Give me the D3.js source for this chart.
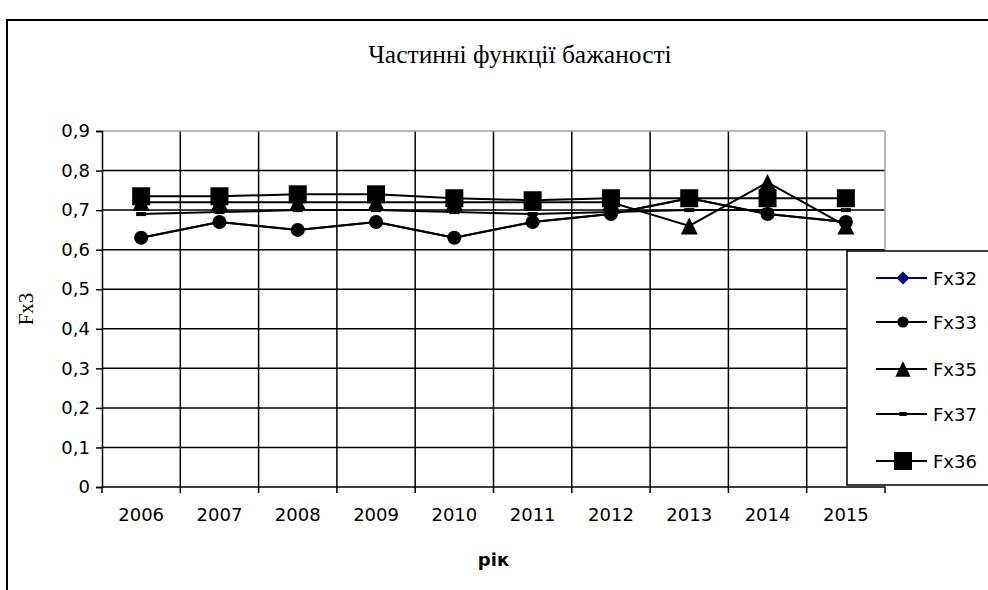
<!DOCTYPE html>
<html><head><meta charset="utf-8">
<script src="https://cdn.jsdelivr.net/npm/d3@7"></script>
<style>html,body{margin:0;padding:0;background:#fff;}</style>
</head><body>
<svg id="chart" width="988" height="590"></svg>
<script>
const years = ['2006','2007','2008','2009','2010','2011','2012','2013','2014','2015'];
const yTicks = [0,0.1,0.2,0.3,0.4,0.5,0.6,0.7,0.8,0.9];
const fx32 = [0.63,0.67,0.65,0.67,0.63,0.67,0.69,0.73,0.69,0.67];
const fx33 = [0.63,0.67,0.65,0.67,0.63,0.67,0.69,0.73,0.69,0.67];
const fx35 = [0.72,0.72,0.72,0.72,0.72,0.72,0.72,0.66,0.77,0.66];
const fx37 = [0.69,0.695,0.70,0.70,0.695,0.69,0.695,0.70,0.70,0.70];
const fx36 = [0.735,0.735,0.74,0.74,0.73,0.725,0.73,0.73,0.73,0.73];
const seriesNames = ['Fx32','Fx33','Fx35','Fx37','Fx36'];
const titleText = 'Частинні функції бажаності';
const yTitle = 'Fx3';
const xTitle = 'рік';

const series = [
  {name:seriesNames[0], values:fx32, color:'#000080', marker:'diamond'},
  {name:seriesNames[1], values:fx33, color:'#000', marker:'circle'},
  {name:seriesNames[2], values:fx35, color:'#000', marker:'triangle'},
  {name:seriesNames[3], values:fx37, color:'#000', marker:'dash'},
  {name:seriesNames[4], values:fx36, color:'#000', marker:'square'}
];

const svg = d3.select('#chart');
const L = 102, R = 885, T = 131, B = 487;
const x = d3.scaleBand().domain(years).range([L, R]);
const y = d3.scaleLinear().domain([0, 0.9]).range([B, T]);
const sans = "'DejaVu Sans', Verdana, sans-serif";
const serif = "'Liberation Serif', 'Times New Roman', serif";

// outer frame
svg.append('rect').attr('x',7).attr('y',20).attr('width',1000).attr('height',600)
  .attr('fill','#fff').attr('stroke','#000').attr('stroke-width',2);

// title
svg.append('text').attr('x',520).attr('y',63).attr('text-anchor','middle')
  .attr('font-family',serif).attr('font-size',25.5).text(titleText);

// gridlines
const g = svg.append('g');
g.selectAll('.hg').data(yTicks.filter(d => d > 0 && d < 0.9)).join('line')
  .attr('x1',L).attr('x2',R).attr('y1',d=>y(d)).attr('y2',d=>y(d))
  .attr('stroke','#000').attr('stroke-width',1.5);
g.selectAll('.vg').data(years.slice(1)).join('line')
  .attr('x1',d=>x(d)).attr('x2',d=>x(d)).attr('y1',T).attr('y2',B)
  .attr('stroke','#000').attr('stroke-width',1.5);
// plot border (grey) top & right
g.append('line').attr('x1',L).attr('x2',R).attr('y1',T).attr('y2',T).attr('stroke','#a0a0a0').attr('stroke-width',1.5);
g.append('line').attr('x1',R).attr('x2',R).attr('y1',T).attr('y2',B).attr('stroke','#a0a0a0').attr('stroke-width',1.5);

// y axis
const yAxis = d3.axisLeft(y).tickValues(yTicks).tickSize(6).tickPadding(6)
  .tickFormat(d => d === 0 ? '0' : d3.format('.1f')(d).replace('.', ','));
const ya = svg.append('g').attr('transform',`translate(${L},0)`).call(yAxis);
ya.select('.domain').attr('stroke','#000').attr('stroke-width',1.5);
ya.selectAll('.tick line').attr('stroke','#000').attr('stroke-width',1.5);
ya.selectAll('.tick text').attr('font-family',sans).attr('font-size',18).attr('fill','#000');

// x axis: labels at band centers, ticks at boundaries
const xAxis = d3.axisBottom(x).tickSize(0).tickPadding(21);
const xa = svg.append('g').attr('transform',`translate(0,${B})`).call(xAxis);
xa.select('.domain').remove();
xa.selectAll('.tick text').attr('font-family',sans).attr('font-size',18).attr('fill','#000');
svg.append('line').attr('x1',L).attr('x2',R).attr('y1',B).attr('y2',B).attr('stroke','#000').attr('stroke-width',1.5);
const bounds = years.map(d => x(d)).concat([x.range()[1]]);
svg.selectAll('.xt').data(bounds).join('line')
  .attr('x1',d=>d).attr('x2',d=>d).attr('y1',B).attr('y2',B+6)
  .attr('stroke','#000').attr('stroke-width',1.5);

// axis titles
svg.append('text').attr('transform',`translate(33,${(T+B)/2}) rotate(-90)`)
  .attr('text-anchor','middle').attr('font-family',serif).attr('font-size',21).text(yTitle);
svg.append('text').attr('x',(L+R)/2).attr('y',566).attr('text-anchor','middle')
  .attr('font-family',sans).attr('font-weight','bold').attr('font-size',18).text(xTitle);

// markers
function drawMarker(sel, type, cx, cy, color, scale) {
  const s = scale || 1;
  if (type === 'square') {
    const w = 18*s;
    sel.append('rect').attr('x',cx-w/2).attr('y',cy-w/2).attr('width',w).attr('height',w).attr('fill',color);
  } else if (type === 'circle') {
    sel.append('circle').attr('cx',cx).attr('cy',cy).attr('r',7*s).attr('fill',color);
  } else if (type === 'triangle') {
    const w = 17*s, h = 17*s;
    sel.append('path').attr('d',`M${cx},${cy-h/2}L${cx+w/2},${cy+h/2}L${cx-w/2},${cy+h/2}Z`).attr('fill',color);
  } else if (type === 'diamond') {
    const w = 13*s;
    sel.append('path').attr('d',`M${cx},${cy-w/2}L${cx+w/2},${cy}L${cx},${cy+w/2}L${cx-w/2},${cy}Z`).attr('fill',color);
  } else if (type === 'dash') {
    sel.append('rect').attr('x',cx-5*s).attr('y',cy-2).attr('width',10*s).attr('height',4).attr('fill',color);
  }
}

const line = d3.line().x((d,i) => x(years[i]) + x.bandwidth()/2).y(d => y(d));
series.forEach(s => {
  const sg = svg.append('g');
  sg.append('path').attr('d', line(s.values)).attr('fill','none')
    .attr('stroke', s.color).attr('stroke-width', 2);
  s.values.forEach((v,i) => drawMarker(sg, s.marker, x(years[i]) + x.bandwidth()/2, y(v), s.color));
});

// legend
const lg = svg.append('g');
lg.append('rect').attr('x',847).attr('y',251).attr('width',200).attr('height',234)
  .attr('fill','#fff').attr('stroke','#000').attr('stroke-width',1.5);
const legY = [278, 322, 369, 414, 461];
series.forEach((s,i) => {
  const yy = legY[i];
  lg.append('line').attr('x1',876).attr('x2',927).attr('y1',yy).attr('y2',yy)
    .attr('stroke',s.color).attr('stroke-width',2);
  const legScale = {square:1, circle:0.8, triangle:0.9, diamond:1, dash:0.75}[s.marker];
  drawMarker(lg, s.marker, 903, yy, s.color, legScale);
  lg.append('text').attr('x',933).attr('y',yy+6.5).attr('font-family',sans).attr('font-size',18).text(s.name);
});
</script>
</body></html>
